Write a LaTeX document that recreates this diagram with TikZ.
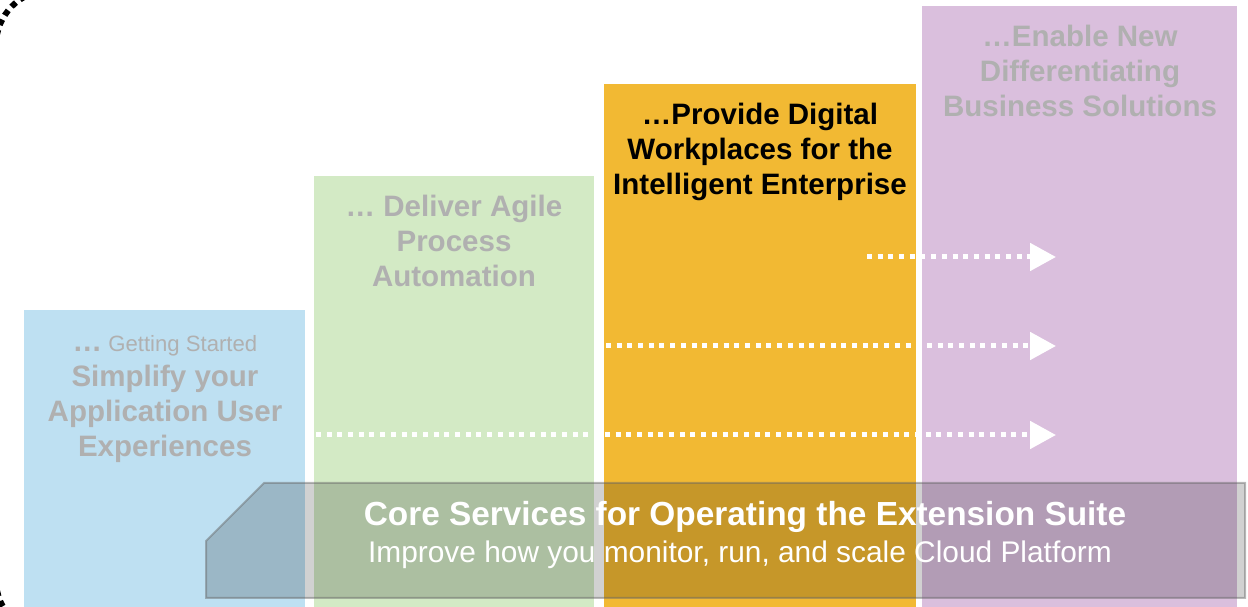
\documentclass[tikz,border=0pt]{standalone}
\usepackage{fontspec}
\setmainfont{Liberation Sans}
\usetikzlibrary{arrows.meta}
\definecolor{colblue}{RGB}{190,224,242}
\definecolor{colgreen}{RGB}{211,234,197}
\definecolor{colorange}{RGB}{242,185,51}
\definecolor{colpurple}{RGB}{218,191,221}
\definecolor{headgray}{RGB}{176,176,176}
\begin{document}
\begin{tikzpicture}[x=0.02cm, y=-0.02cm,
	flow/.style={white, line width=0.1cm, dash pattern=on 0.1cm off 0.114cm,
		-{Triangle[length=0.52cm, width=0.54cm]}},
	head/.style={text=headgray, font=\bfseries\fontsize{16.8}{20}\selectfont, align=center}]
		\useasboundingbox (0,0) rectangle (1248,607);
		% dotted frame, only its left corners show
		\begin{scope}
			\clip (0,0) rectangle (1248,607);
			\draw[line width=0.12cm, dash pattern=on 0.12cm off 0.1cm, rounded corners=1.1cm]
				(90,-10) -- (-4,-10) -- (-4,635) -- (90,635);
		\end{scope}
		
		% the four steps
		\fill[colblue] (24,310) rectangle (305,607);
		\fill[colgreen] (314,176) rectangle (594,607);
		\fill[colorange] (604,84) rectangle (916,607);
		\fill[colpurple] (922,6) rectangle (1237,607);
		
		\node[head] (simplify) at (165,399) {…{\mdseries\fontsize{12.6}{20}\selectfont{} Getting Started}\\Simplify your\\Application User\\Experiences};
		\node[head] (agile) at (454,241) {… Deliver Agile\\Process\\Automation};
		\node[head, text=black] (workplace) at (760,152) {…Provide Digital\\Workplaces for the\\Intelligent Enterprise};
		\node[head] (enable) at (1080,71) {…Enable New\\Differentiating\\Business Solutions};
		
		\coordinate (f1s) at (867,257);
		\coordinate (f1e) at (1056,257);
		\coordinate (f2s) at (606,346);
		\coordinate (f2e) at (1056,346);
		\coordinate (f3s) at (316,435);
		\coordinate (f3e) at (1056,435);
		\draw[flow] (f1s) -- (f1e);
		\draw[flow] (f2s) -- (f2e);
		\draw[flow] (f3s) -- (f3e);
		
		% core services band
		\draw[fill=black, fill opacity=0.18, draw=black!60, draw opacity=0.45, line width=0.04cm]
			(264,483) -- (1245,483) -- (1245,598) -- (206,598) -- (206,541) -- cycle;
		\node[text=white, font=\bfseries\fontsize{19}{23}\selectfont] (core) at (745,517) {Core Services for Operating the Extension Suite};
		\node[text=white, font=\fontsize{17}{20}\selectfont] (improve) at (740,555) {Improve how you monitor, run, and scale Cloud Platform};
	\end{tikzpicture}
\end{document}
